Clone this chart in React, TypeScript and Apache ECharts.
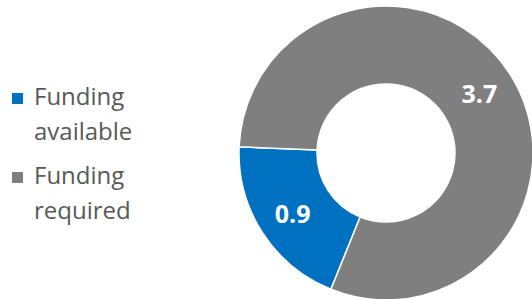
import React, { useEffect, useRef } from "react";
import * as echarts from "echarts";

const categories = ["Funding available", "Funding required"];
const values = [0.9, 3.7];
const colors = ["#0070C0", "#7F7F7F"];

export default function App() {
  const ref = useRef<HTMLDivElement>(null);
  useEffect(() => {
    if (!ref.current) return;
    const chart = echarts.init(ref.current, undefined, { renderer: "svg" });
    const legendGraphics: any[] = [];
    categories.forEach((name, i) => {
      const top = 93 + i * 79;
      legendGraphics.push({
        type: "rect",
        left: 12,
        top: top,
        shape: { width: 11, height: 11 },
        style: { fill: colors[i] },
      });
      legendGraphics.push({
        type: "text",
        left: 34,
        top: top - 15,
        style: {
          text: name.replace(" ", "\n"),
          fill: "#595959",
          font: '24px "Open Sans"',
          lineHeight: 35,
        },
      });
    });
    chart.setOption({
      animation: false,
      color: colors,
      graphic: legendGraphics,
      series: [
        {
          type: "pie",
          center: [386, 153],
          radius: [69, 147],
          startAngle: 248,
          clockwise: true,
          avoidLabelOverlap: false,
          itemStyle: { borderColor: "#ffffff", borderWidth: 1.5 },
          label: {
            show: true,
            position: "inside",
            formatter: "{c}",
            color: "#ffffff",
            fontFamily: "Open Sans",
            fontWeight: "bold",
            fontSize: 25,
          },
          labelLine: { show: false },
          emphasis: { disabled: true },
          data: categories.map((name, i) => ({ name, value: values[i] })),
        },
      ],
    });
    return () => chart.dispose();
  }, []);
  return (
    <div
      ref={ref}
      style={{ position: "fixed", left: 0, top: 0, width: 532, height: 299, background: "#fff" }}
    />
  );
}
